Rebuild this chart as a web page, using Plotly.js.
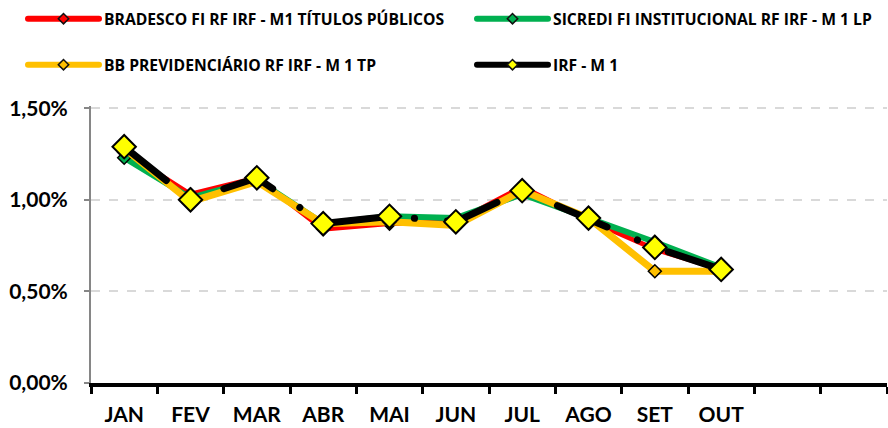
<!DOCTYPE html>
<html>
<head>
<meta charset="utf-8">
<script src="https://cdn.plot.ly/plotly-3.0.1.min.js"></script>
<style>
html,body{margin:0;padding:0;background:#fff;}
#chart{width:888px;height:428px;}
.js-line{stroke-linecap:round;}
</style>
</head>
<body>
<div id="chart"></div>
<script>
// ---- data ----
const months = ['JAN','FEV','MAR','ABR','MAI','JUN','JUL','AGO','SET','OUT'];
const extraSlots = ['\u200b','\u200b\u200b'];
const seriesNames = [
  'BRADESCO FI RF IRF - M1 TÍTULOS PÚBLICOS',
  'SICREDI FI INSTITUCIONAL RF IRF - M 1 LP',
  'BB PREVIDENCIÁRIO RF IRF - M 1 TP',
  'IRF - M 1'
];
const bradesco = [1.26, 1.03, 1.12, 0.84, 0.87, 0.88, 1.07, 0.89, 0.73, 0.62];
const sicredi  = [1.23, 1.01, 1.11, 0.87, 0.91, 0.90, 1.03, 0.90, 0.77, 0.63];
const bb       = [1.28, 0.99, 1.10, 0.87, 0.88, 0.86, 1.05, 0.90, 0.61, 0.61];
const irfm1    = [1.29, 1.00, 1.12, 0.87, 0.91, 0.88, 1.05, 0.90, 0.74, 0.62];
const yTicks = [0, 0.5, 1.0, 1.5];
const yTickLabels = ['0,00%', '0,50%', '1,00%', '1,50%'];

const AXFONT = 'Lato, "Open Sans", sans-serif';
const LGFONT = '"Open Sans", Lato, sans-serif';
const colors = ['#ff0000', '#00b050', '#ffc000', '#000000'];
const markerFill = ['#ff0000', '#00b050', '#ffc000', '#ffff00'];

const series = [bradesco, sicredi, bb, irfm1];
const widths = [5, 6, 7, 7];
const legendIds = ['legend', 'legend2', 'legend3', 'legend4'];
const traces = [];
series.forEach((vals, i) => {
  const isIdx = i === 3;
  traces.push({
    type: 'scatter', mode: 'lines+markers', x: months, y: vals,
    name: seriesNames[i], showlegend: false, hoverinfo: 'skip',
    line: {color: colors[i], width: widths[i], dash: isIdx ? '54px,33px,0.1px,33px' : 'solid'},
    marker: {symbol: 'diamond', size: isIdx ? 18 : 10, color: markerFill[i],
             line: {color: '#000', width: isIdx ? 2 : 1.5}}
  });
});
// legend entries
series.forEach((vals, i) => {
  traces.push({
    type: 'scatter', mode: 'lines+markers', x: [null], y: [null],
    name: seriesNames[i], showlegend: true, legend: legendIds[i],
    line: {color: colors[i], width: 6},
    marker: {symbol: 'diamond', size: 8, color: markerFill[i], line: {color: '#111', width: 1.5}}
  });
});

function mkLegend(xpx, ypx) {
  return {
    orientation: 'h', xref: 'container', yref: 'container', x: xpx/888, xanchor: 'left',
    y: 1 - ypx/428, yanchor: 'middle', itemwidth: 71,
    bgcolor: 'rgba(0,0,0,0)', font: {family: LGFONT, size: 15.7, color: '#000', weight: 'bold'},
    itemclick: false, itemdoubleclick: false
  };
}

const layout = {
  width: 888, height: 428,
  margin: {l: 91, r: 1, t: 106, b: 45},
  paper_bgcolor: '#fff', plot_bgcolor: '#fff',
  font: {family: AXFONT, color: '#000'},
  showlegend: true,
  legend: mkLegend(23, 19),
  legend2: mkLegend(472, 19),
  legend3: mkLegend(23, 65),
  legend4: mkLegend(472, 65),
  xaxis: {
    type: 'category', categoryorder: 'array', categoryarray: months.concat(extraSlots),
    range: [-0.5, 11.5], tickmode: 'linear', tick0: 0, dtick: 1, tickson: 'boundaries',
    showline: true, linecolor: '#000', linewidth: 4, showgrid: false, zeroline: false,
    ticks: 'outside', ticklen: 7, tickwidth: 3, tickcolor: '#000',
    ticklabelstandoff: 10,
    tickfont: {family: AXFONT, size: 21, color: '#000', weight: 'bold'}
  },
  yaxis: {
    range: [0, 1.512], tickmode: 'array', tickvals: yTicks, ticktext: yTickLabels,
    showline: true, linecolor: '#868686', linewidth: 2,
    ticks: 'outside', ticklen: 5, tickwidth: 2, tickcolor: '#868686',
    showgrid: true, gridcolor: '#d9d9d9', gridwidth: 2, griddash: 'dash', zeroline: false,
    ticklabelstandoff: 12,
    tickfont: {family: AXFONT, size: 21, color: '#000', weight: 'bold'}
  }
};

Plotly.newPlot('chart', traces, layout, {staticPlot: true});
</script>
</body>
</html>
